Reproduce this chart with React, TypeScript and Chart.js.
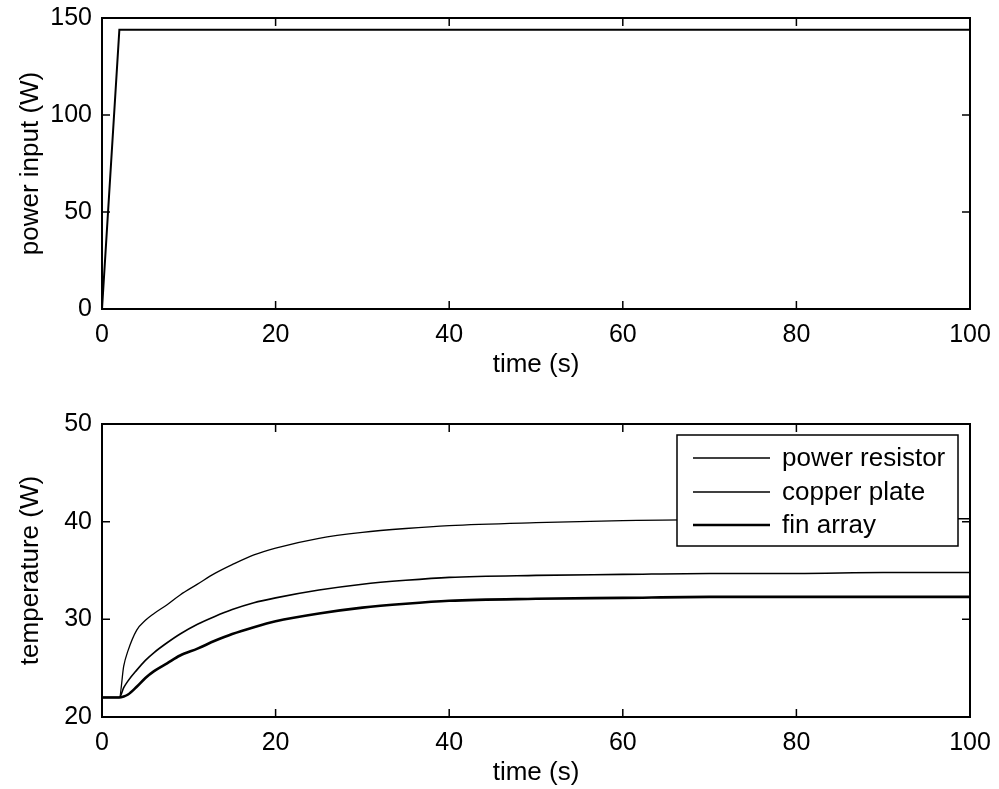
import React, { useEffect, useRef } from "react";
import { Chart, registerables } from "chart.js";

Chart.register(...registerables);

// ---- data ----
const powerTime = [0, 2, 100];
const powerInput = [0, 144, 144];

const tempTime = [0, 2, 2.5, 3, 4, 5, 6, 7.5, 9, 11, 13, 15, 17.5, 20, 25, 30, 35, 40, 50, 60, 70, 80, 90, 100];
const powerResistor = [22, 22, 25.2, 26.8, 28.9, 29.9, 30.6, 31.5, 32.5, 33.6, 34.7, 35.6, 36.6, 37.3, 38.3, 38.9, 39.3, 39.6, 39.9, 40.1, 40.2, 40.2, 40.3, 40.3];
const copperPlate = [22, 22, 23.0, 23.7, 24.8, 25.8, 26.6, 27.6, 28.5, 29.5, 30.3, 31.0, 31.7, 32.2, 33.0, 33.6, 34.0, 34.3, 34.5, 34.6, 34.7, 34.7, 34.8, 34.8];
const finArray = [22, 22, 22.1, 22.3, 23.1, 24.0, 24.7, 25.5, 26.3, 27.0, 27.8, 28.5, 29.2, 29.8, 30.6, 31.2, 31.6, 31.9, 32.1, 32.2, 32.3, 32.3, 32.3, 32.3];

const xTicks = [0, 20, 40, 60, 80, 100];
const powerTicks = [0, 50, 100, 150];
const tempTicks = [20, 30, 40, 50];

const FONT = "'Liberation Sans', Arial, Helvetica, sans-serif";
const FS = 25;
const FT = 26;

const toPts = (xs: number[], ys: number[]) => xs.map((x, i) => ({ x, y: ys[i] }));

const boxPlugin = {
  id: "matlabBox",
  afterDatasetsDraw(chart: any, _args: any, opts: any) {
    const { ctx, chartArea } = chart;
    const { left, right, top, bottom } = chartArea;
    const xs = chart.scales.x;
    const ys = chart.scales.y;
    const TL = 8;
    ctx.save();
    ctx.strokeStyle = "#000";
    ctx.lineWidth = 1.5;
    ctx.beginPath();
    for (const v of opts.xTicks || []) {
      const px = xs.getPixelForValue(v);
      ctx.moveTo(px, bottom);
      ctx.lineTo(px, bottom - TL);
      ctx.moveTo(px, top);
      ctx.lineTo(px, top + TL);
    }
    for (const v of opts.yTicks || []) {
      const py = ys.getPixelForValue(v);
      ctx.moveTo(left, py);
      ctx.lineTo(left + TL, py);
      ctx.moveTo(right, py);
      ctx.lineTo(right - TL, py);
    }
    ctx.stroke();
    ctx.lineWidth = 2;
    ctx.strokeRect(left, top, right - left, bottom - top);

    if (opts.legend) {
      const bw = 281;
      const bh = 111;
      const bx = right - 12 - bw;
      const by = top + 11;
      ctx.fillStyle = "#fff";
      ctx.fillRect(bx, by, bw, bh);
      ctx.lineWidth = 1.5;
      ctx.strokeRect(bx, by, bw, bh);
      const rows = [23, 57, 90];
      ctx.font = `${FT}px ${FONT}`;
      ctx.textBaseline = "middle";
      ctx.textAlign = "left";
      chart.data.datasets.forEach((ds: any, i: number) => {
        const ry = by + rows[i];
        ctx.lineWidth = ds.borderWidth;
        ctx.beginPath();
        ctx.moveTo(bx + 16, ry);
        ctx.lineTo(bx + 93, ry);
        ctx.stroke();
        ctx.fillStyle = "#000";
        ctx.fillText(ds.label, bx + 105, ry + 1);
      });
    }
    ctx.restore();
  },
};

type PlotProps = {
  canvasTop: number;
  padTop: number;
  datasets: any[];
  yMin: number;
  yMax: number;
  yStep: number;
  yTicks: number[];
  yTitle: string;
  legend: boolean;
};

const CANVAS_H = 395;
const CHART_BOTTOM = 309;

function Plot(p: PlotProps) {
  const ref = useRef<HTMLCanvasElement>(null);
  useEffect(() => {
    if (!ref.current) return;
    const chart = new Chart(ref.current, {
      type: "line",
      data: { datasets: p.datasets },
      options: {
        animation: false,
        responsive: false,
        maintainAspectRatio: false,
        devicePixelRatio: 1,
        layout: { padding: { top: p.padTop, right: 29, left: 0, bottom: 0 } },
        elements: { point: { radius: 0 } },
        plugins: {
          legend: { display: false },
          tooltip: { enabled: false },
          matlabBox: { xTicks, yTicks: p.yTicks, legend: p.legend },
        } as any,
        scales: {
          x: {
            type: "linear",
            min: 0,
            max: 100,
            grid: { display: false, drawTicks: false },
            border: { display: false },
            ticks: {
              stepSize: 20,
              color: "#000",
              padding: 11,
              maxRotation: 0,
              font: { family: FONT, size: FS },
            },
            title: {
              display: true,
              text: "time (s)",
              color: "#000",
              font: { family: FONT, size: FT, lineHeight: 1 },
              padding: { top: 0, bottom: 17 },
            },
            afterFit(scale: any) {
              scale.height = CANVAS_H - CHART_BOTTOM;
              scale.paddingLeft = 0;
              scale.paddingRight = 0;
            },
          },
          y: {
            type: "linear",
            min: p.yMin,
            max: p.yMax,
            grid: { display: false, drawTicks: false },
            border: { display: false },
            ticks: {
              stepSize: p.yStep,
              color: "#000",
              padding: 10,
              font: { family: FONT, size: FS },
            },
            title: {
              display: true,
              text: p.yTitle,
              color: "#000",
              font: { family: FONT, size: FT, lineHeight: 1 },
              padding: { top: 18, bottom: 0 },
            },
            afterFit(scale: any) {
              scale.width = 102;
              scale.paddingTop = 0;
              scale.paddingBottom = 0;
            },
          },
        },
      } as any,
      plugins: [boxPlugin],
    });
    return () => chart.destroy();
  }, []);
  return (
    <canvas
      ref={ref}
      width={999}
      height={CANVAS_H}
      style={{ position: "absolute", left: 0, top: p.canvasTop, width: 999, height: CANVAS_H }}
    />
  );
}

export default function App() {
  const powerDs = [
    {
      label: "power input",
      data: toPts(powerTime, powerInput),
      borderColor: "#000",
      borderWidth: 2,
      tension: 0,
      fill: false,
    },
  ];
  const tempDs = [
    {
      label: "power resistor",
      data: toPts(tempTime, powerResistor),
      borderColor: "#000",
      borderWidth: 1.3,
      cubicInterpolationMode: "monotone",
      fill: false,
    },
    {
      label: "copper plate",
      data: toPts(tempTime, copperPlate),
      borderColor: "#000",
      borderWidth: 1.6,
      cubicInterpolationMode: "monotone",
      fill: false,
    },
    {
      label: "fin array",
      data: toPts(tempTime, finArray),
      borderColor: "#000",
      borderWidth: 2.6,
      cubicInterpolationMode: "monotone",
      fill: false,
    },
  ];
  return (
    <div
      style={{
        position: "absolute",
        left: 0,
        top: 0,
        width: 999,
        height: 789,
        overflow: "hidden",
        background: "#fff",
      }}
    >
      <Plot
        canvasTop={0}
        padTop={18}
        datasets={powerDs}
        yMin={0}
        yMax={150}
        yStep={50}
        yTicks={powerTicks}
        yTitle="power input (W)"
        legend={false}
      />
      <Plot
        canvasTop={408}
        padTop={16}
        datasets={tempDs}
        yMin={20}
        yMax={50}
        yStep={10}
        yTicks={tempTicks}
        yTitle="temperature (W)"
        legend={true}
      />
    </div>
  );
}
